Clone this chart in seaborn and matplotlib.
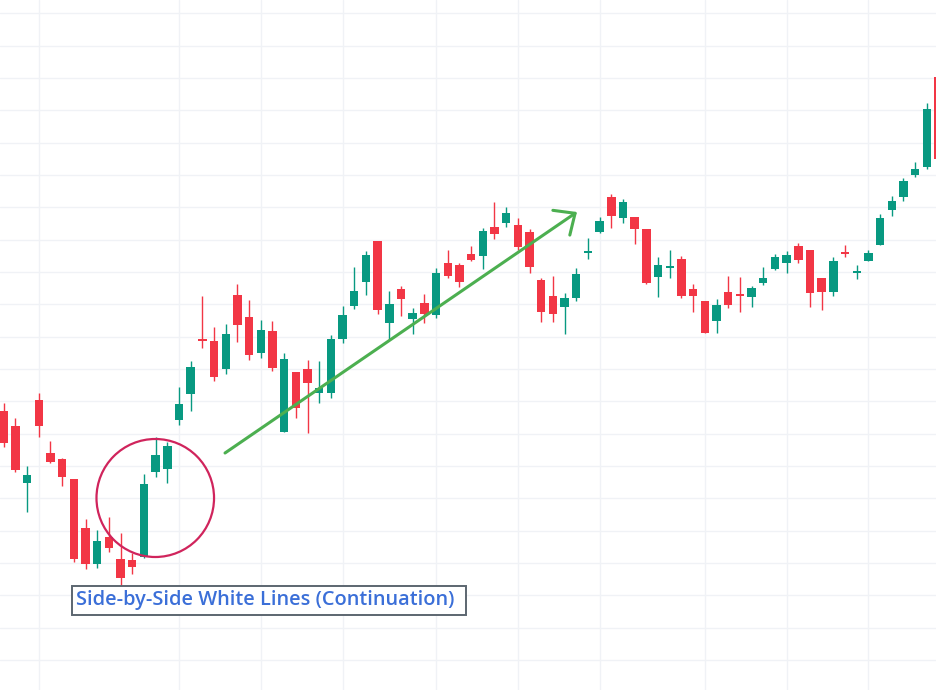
import numpy as np
import pandas as pd
import seaborn as sns
import matplotlib.pyplot as plt
from matplotlib.patches import Ellipse, Rectangle

# OHLC values (one candle per session)
opens = [289, 274, 217, 300, 247, 241, 221, 172, 136, 163,
         141, 140, 143, 228, 231, 280, 306, 361, 359, 331,
         405, 383, 347, 369, 268, 328, 331, 307, 307, 361,
         394, 418, 459, 377, 411, 381, 397, 385, 437, 435,
         446, 444, 473, 477, 475, 468, 420, 404, 393, 402,
         447, 468, 503, 482, 483, 471, 423, 432, 441, 411,
         399, 379, 408, 406, 403, 417, 431, 437, 454, 450,
         422, 408, 448, 427, 439, 455, 490, 503, 525, 533, 623]
highs = [297, 282, 234, 307, 259, 242, 221, 181, 170, 183,
         167, 147, 226, 263, 258, 313, 339, 404, 373, 376,
         416, 400, 380, 379, 347, 328, 340, 339, 365, 394,
         433, 449, 459, 409, 414, 392, 406, 432, 450, 437,
         454, 472, 498, 493, 482, 471, 422, 424, 407, 432,
         462, 483, 506, 501, 483, 471, 443, 450, 444, 416,
         399, 401, 424, 423, 414, 433, 446, 449, 457, 450,
         422, 443, 455, 435, 450, 486, 504, 522, 538, 597, 625]
lows = [253, 228, 188, 263, 237, 214, 138, 131, 132, 148,
        113, 126, 142, 223, 217, 275, 289, 352, 319, 326,
        358, 340, 342, 329, 268, 282, 267, 297, 302, 357,
        391, 405, 386, 361, 384, 366, 377, 382, 422, 413,
        439, 431, 461, 473, 450, 427, 378, 378, 366, 399,
        441, 467, 472, 477, 456, 416, 403, 422, 402, 388,
        367, 367, 392, 388, 393, 415, 430, 427, 437, 393,
        390, 404, 443, 421, 439, 455, 484, 499, 523, 531, 541]
closes = [257, 230, 225, 274, 238, 223, 141, 136, 159, 152,
          122, 133, 216, 245, 254, 296, 333, 359, 323, 366,
          375, 345, 370, 332, 341, 292, 317, 312, 361, 385,
          409, 445, 390, 396, 401, 387, 386, 427, 424, 418,
          440, 469, 466, 487, 453, 433, 388, 386, 402, 426,
          449, 479, 484, 498, 471, 417, 435, 434, 404, 404,
          367, 395, 395, 404, 412, 422, 443, 445, 440, 407,
          408, 439, 446, 429, 447, 482, 499, 519, 531, 591, 541]

# weekly separators (candle index) and price grid levels
week_ticks = [3, 15, 22, 29, 37, 44, 51, 60, 67, 74]
price_levels = [686.7, 654.4, 622.0, 589.7, 557.4, 525.0, 492.7, 460.4,
                428.0, 395.7, 363.4, 331.0, 298.7, 266.4, 234.0, 201.7,
                169.4, 137.0, 104.7, 72.4, 40.0]

label = "Side-by-Side White Lines (Continuation)"

df = pd.DataFrame({"open": opens, "high": highs, "low": lows, "close": closes})
df["up"] = df["close"] >= df["open"]
df["bottom"] = df[["open", "close"]].min(axis=1)
df["body"] = (df["close"] - df["open"]).abs().clip(lower=2)

green = "#089981"
red = "#F23645"
colors = np.where(df["up"], green, red)

sns.set_theme(style="white")
fig = plt.figure(figsize=(9.37, 6.9), dpi=100)
ax = fig.add_axes([0, 0, 1, 1])

ax.vlines(df.index, df["low"], df["high"], color=colors, lw=1.0, zorder=2)
ax.bar(df.index, df["body"], bottom=df["bottom"], width=0.72,
       color=colors, linewidth=0, zorder=3)

ax.set_xlim(-0.317, 79.87)
ax.set_ylim(10, 700)
ax.set_xticks(week_ticks)
ax.set_yticks(price_levels)
ax.tick_params(length=0, labelbottom=False, labelleft=False)
ax.grid(True, color="#F0F2F6", lw=1, zorder=0)
for s in ax.spines.values():
    s.set_visible(False)

# highlight circle around the pattern
ax.add_patch(Ellipse((12.97, 202), width=10.06, height=118, fill=False,
                     edgecolor="#D0245C", lw=1.6, zorder=4))

# trend arrow
ax.annotate("", xy=(49.06, 488), xytext=(18.94, 247),
            arrowprops=dict(arrowstyle="->,head_length=1.0,head_width=0.9",
                            color="#4CAF50", lw=2.2, shrinkA=0, shrinkB=0),
            zorder=5)

# label box
fig.patches.append(Rectangle((72 / 937, 1 - 615 / 690), 394 / 937, 29 / 690,
                             transform=fig.transFigure, facecolor="white",
                             edgecolor="#5C6670", lw=1.4, zorder=6))
fig.text(76 / 937, 1 - 600.5 / 690, label, ha="left", va="center",
         fontsize=14.4, color="#3B6FD8", fontweight="semibold",
         family=["Open Sans", "DejaVu Sans"], zorder=7)

fig.savefig("out.png", dpi=100)
